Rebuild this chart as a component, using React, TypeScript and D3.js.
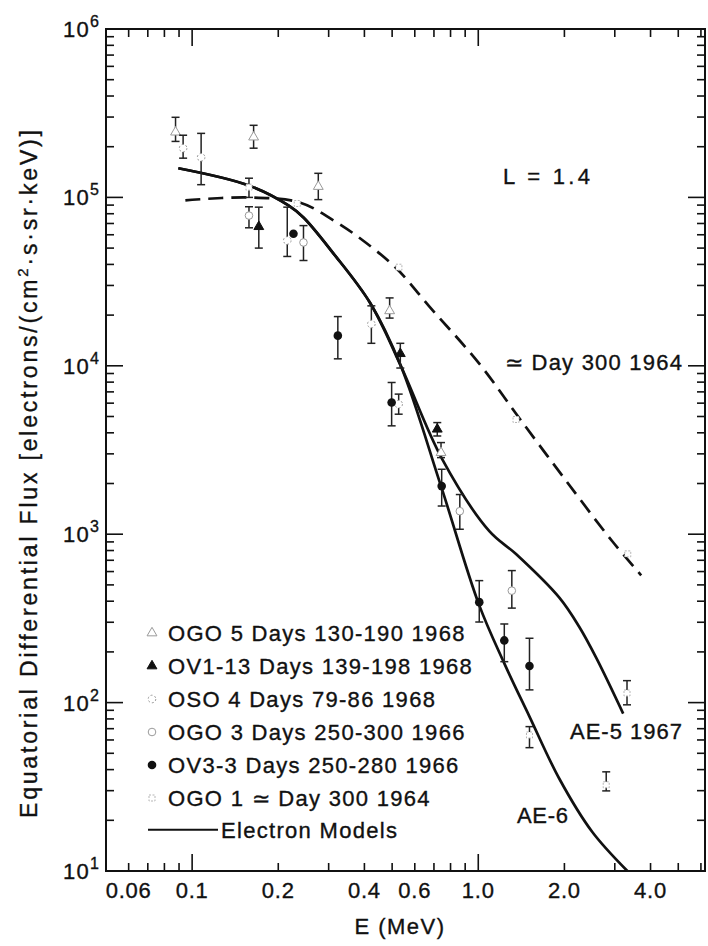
import React, { useEffect, useRef } from 'react';
import * as d3 from 'd3';

const WIDTH = 708;
const HEIGHT = 946;

// model curves (E in MeV, flux)
const sharedE = [0.0895, 0.157, 0.217, 0.245, 0.312, 0.419, 0.536];
const sharedF = [1.49e5, 1.18e5, 8.96e4, 7.6e4, 4.64e4, 2.36e4, 1.0e4];
const ae6E = [0.741, 1.005, 1.233, 1.51, 1.92, 2.5, 3.32];
const ae6F = [1930, 383, 171, 82.6, 35.3, 17.1, 10];
const ae5E = [0.748, 1.093, 1.358, 1.92, 2.25, 2.59, 3.21];
const ae5F = [2790, 1042, 760, 420, 283, 183, 86];
const day300E = [0.0947, 0.157, 0.239, 0.312, 0.387, 0.514, 0.681, 1.008, 1.39, 2.03, 2.94, 3.71];
const day300F = [9.6e4, 1.0e5, 9.3e4, 7.3e4, 5.7e4, 3.83e4, 2.21e4, 1.03e4, 4.9e3, 2.07e3, 908, 570];

// measurements: [E, flux, low, high]
const ogo5 = [
  [0.0875, 2.44e5, 2.15e5, 2.99e5],
  [0.164, 2.28e5, 1.96e5, 2.68e5],
  [0.276, 1.16e5, 9.7e4, 1.39e5],
  [0.49, 2.12e4, 1.92e4, 2.53e4],
  [0.741, 3.05e3, 2.85e3, 3.5e3],
];
const ov113 = [
  [0.171, 6.7e4, 5.0e4, 8.75e4],
  [0.534, 1.18e4, 9.7e3, 1.36e4],
  [0.719, 4.2e3, 3.83e3, 4.6e3],
];
const oso4 = [
  [0.093, 1.96e5, 1.71e5, 2.34e5],
  [0.1075, 1.73e5, 1.19e5, 2.4e5],
  [0.215, 5.55e4, 4.46e4, 8.75e4],
  [0.423, 1.77e4, 1.36e4, 2.27e4],
  [0.527, 5920, 5160, 6790],
];
const ogo3 = [
  [0.158, 7.8e4, 6.6e4, 8.8e4],
  [0.245, 5.4e4, 4.22e4, 6.8e4],
  [0.862, 1370, 1070, 1720],
  [1.31, 462, 364, 608],
];
const ov33 = [
  [0.226, 6.08e4, 6.08e4, 6.08e4],
  [0.323, 1.51e4, 1.1e4, 1.96e4],
  [0.498, 6050, 4400, 7960],
  [0.745, 1930, 1470, 2430],
  [1.008, 395, 301, 530],
  [1.233, 234, 175, 293],
  [1.51, 165, 119, 241],
];
const ogo1 = [
  [0.158, 1.15e5, 1.0e5, 1.3e5],
  [0.233, 9.2e4, 9.2e4, 9.2e4],
  [0.528, 3.85e4, 3.85e4, 3.85e4],
  [1.355, 4800, 4800, 4800],
  [3.33, 764, 764, 764],
  [1.51, 64.2, 54, 72],
  [2.8, 32.5, 29.9, 38.8],
  [3.31, 114, 97, 135],
];

const legendLabels = [
  'OGO 5 Days 130-190 1968',
  'OV1-13 Days 139-198 1968',
  'OSO 4 Days 79-86 1968',
  'OGO 3 Days 250-300 1966',
  'OV3-3 Days 250-280 1966',
  'OGO 1 \u2243 Day 300 1964',
];
const xTickValues = [0.06, 0.1, 0.2, 0.4, 0.6, 1.0, 2.0, 4.0];
const xTickLabels = ['0.06', '0.1', '0.2', '0.4', '0.6', '1.0', '2.0', '4.0'];
const yTickValues = [10, 100, 1e3, 1e4, 1e5, 1e6];
const yTickExp = ['1', '2', '3', '4', '5', '6'];

const FONT = "'Liberation Sans', Arial, Helvetica, sans-serif";

const FluxChart = () => {
  const ref = useRef<HTMLDivElement>(null);

  useEffect(() => {
    const margin = { top: 29, right: 3, bottom: 75, left: 106 };
    d3.select(ref.current).selectAll('*').remove();

    const svg = d3
      .select(ref.current)
      .append('svg')
      .attr('width', WIDTH)
      .attr('height', HEIGHT)
      .style('display', 'block')
      .style('background', '#fff')
      .style('font-family', FONT);

    const x = d3.scaleLog().domain([0.05, 6.2]).range([margin.left, WIDTH - margin.right]);
    const y = d3.scaleLog().domain([10, 1e6]).range([HEIGHT - margin.bottom, margin.top]);
    const [x0, x1] = x.range();
    const [y0, y1] = y.range();

    // frame
    svg
      .append('rect')
      .attr('x', x0)
      .attr('y', y1)
      .attr('width', x1 - x0)
      .attr('height', y0 - y1)
      .attr('fill', 'none')
      .attr('stroke', '#111')
      .attr('stroke-width', 2);

    // ticks pointing inward
    const isDecade = (v: number) => Math.abs(Math.log10(v) - Math.round(Math.log10(v))) < 1e-6;
    const ticks = svg.append('g').attr('stroke', '#111').attr('stroke-width', 1.6);
    x.ticks().forEach((v) => {
      const len = isDecade(v) ? 17 : 8;
      ticks.append('line').attr('x1', x(v)).attr('x2', x(v)).attr('y1', y0).attr('y2', y0 - len);
      ticks.append('line').attr('x1', x(v)).attr('x2', x(v)).attr('y1', y1).attr('y2', y1 + len);
    });
    y.ticks().forEach((v) => {
      const len = isDecade(v) ? 17 : 8;
      ticks.append('line').attr('x1', x0).attr('x2', x0 + len).attr('y1', y(v)).attr('y2', y(v));
      ticks.append('line').attr('x1', x1).attr('x2', x1 - len).attr('y1', y(v)).attr('y2', y(v));
    });

    // text looks heavy in the scan
    const ink = (sel: any) => sel.attr('fill', '#111').attr('stroke', '#111').attr('stroke-width', 0.35);

    // tick labels
    svg
      .append('g')
      .call(ink)
      .selectAll('text')
      .data(xTickValues)
      .join('text')
      .attr('x', (d) => x(d))
      .attr('y', 898)
      .attr('text-anchor', 'middle')
      .style('font-size', '22px')
      .style('letter-spacing', '0.8px')
      .text((d, i) => xTickLabels[i]);

    const yl = svg
      .append('g')
      .call(ink)
      .selectAll('text')
      .data(yTickValues)
      .join('text')
      .attr('x', 100)
      .attr('y', (d) => y(d) + 8)
      .attr('text-anchor', 'end')
      .style('font-size', '22px')
      .style('letter-spacing', '1.2px');
    yl.append('tspan').text('10');
    yl.append('tspan')
      .attr('dy', -10)
      .style('font-size', '16px')
      .text((d, i) => yTickExp[i]);

    // axis titles
    svg
      .append('text')
      .call(ink)
      .attr('x', 400)
      .attr('y', 934)
      .attr('text-anchor', 'middle')
      .style('font-size', '22px')
      .style('letter-spacing', '1.5px')
      .text('E (MeV)');

    const yt = svg
      .append('text')
      .call(ink)
      .attr('transform', 'translate(37,474) rotate(-90)')
      .attr('text-anchor', 'middle')
      .attr('textLength', 688)
      .attr('lengthAdjust', 'spacing')
      .style('font-size', '23px');
    yt.append('tspan').text('Equatorial Differential Flux [electrons/(cm');
    yt.append('tspan').attr('dy', -9).style('font-size', '15px').text('2');
    yt.append('tspan').attr('dy', 9).text('\u00b7s\u00b7sr\u00b7keV)]');

    // model curves
    const line = d3
      .line<[number, number]>()
      .x((d) => x(d[0]))
      .y((d) => y(d[1]))
      .curve(d3.curveCatmullRom.alpha(0.5));

    const zip = (es: number[], fs: number[]) => es.map((e, i) => [e, fs[i]] as [number, number]);
    const shared = zip(sharedE, sharedF);
    const curves = [
      { pts: shared.concat(zip(ae6E, ae6F)), dash: null },
      { pts: shared.concat(zip(ae5E, ae5F)), dash: null },
      { pts: zip(day300E, day300F), dash: '15 8' },
    ];
    svg
      .append('defs')
      .append('clipPath')
      .attr('id', 'plot-clip')
      .append('rect')
      .attr('x', x0)
      .attr('y', y1)
      .attr('width', x1 - x0)
      .attr('height', y0 - y1);
    curves.forEach((c) => {
      svg
        .append('path')
        .datum(c.pts)
        .attr('clip-path', 'url(#plot-clip)')
        .attr('fill', 'none')
        .attr('stroke', '#111')
        .attr('stroke-width', 2.7)
        .attr('stroke-dasharray', c.dash)
        .attr('d', line);
    });

    // error bars + markers
    const faint = '#9a9a9a';
    const triangle = d3.symbol().type(d3.symbolTriangle).size(42);
    const series = [
      { data: ogo5, kind: 'tri-open' },
      { data: ov113, kind: 'tri' },
      { data: oso4, kind: 'circ-dash' },
      { data: ogo3, kind: 'circ-open' },
      { data: ov33, kind: 'circ' },
      { data: ogo1, kind: 'sq-open' },
    ];

    const drawMarker = (g: any, kind: string, cx: number, cy: number) => {
      if (kind === 'tri' || kind === 'tri-open') {
        g.append('path')
          .attr('d', triangle())
          .attr('transform', `translate(${cx},${cy})`)
          .attr('fill', kind === 'tri' ? '#111' : '#fff')
          .attr('stroke', kind === 'tri' ? '#111' : faint)
          .attr('stroke-width', 1);
      } else if (kind === 'circ') {
        g.append('circle').attr('cx', cx).attr('cy', cy).attr('r', 4.3).attr('fill', '#111');
      } else if (kind === 'circ-open' || kind === 'circ-dash') {
        g.append('circle')
          .attr('cx', cx)
          .attr('cy', cy)
          .attr('r', 3.8)
          .attr('fill', '#fff')
          .attr('stroke', faint)
          .attr('stroke-width', 1)
          .attr('stroke-dasharray', kind === 'circ-dash' ? '2 2' : null);
      } else {
        g.append('rect')
          .attr('x', cx - 3)
          .attr('y', cy - 3)
          .attr('width', 6)
          .attr('height', 6)
          .attr('fill', '#fff')
          .attr('stroke', '#b5b5b5')
          .attr('stroke-width', 1)
          .attr('stroke-dasharray', '2 1.5');
      }
    };

    const points = svg.append('g');
    series.forEach((s) => {
      s.data.forEach((d) => {
        const [e, f, lo, hi] = d;
        const cx = x(e);
        if (hi > lo) {
          points
            .append('line')
            .attr('x1', cx)
            .attr('x2', cx)
            .attr('y1', y(hi))
            .attr('y2', y(lo))
            .attr('stroke', '#222')
            .attr('stroke-width', 1.5);
          [hi, lo].forEach((v) => {
            points
              .append('line')
              .attr('x1', cx - 4)
              .attr('x2', cx + 4)
              .attr('y1', y(v))
              .attr('y2', y(v))
              .attr('stroke', '#222')
              .attr('stroke-width', 1.5);
          });
        }
        drawMarker(points, s.kind, cx, y(f));
      });
    });

    // annotations
    const notes = [
      { t: 'L = 1.4', x: 503, y: 184, w: 87 },
      { t: '\u2243 Day 300 1964', x: 505, y: 370, w: 177 },
      { t: 'AE-5 1967', x: 570, y: 739, w: 112 },
      { t: 'AE-6', x: 517, y: 823, w: 51 },
    ];
    svg
      .append('g')
      .call(ink)
      .selectAll('text')
      .data(notes)
      .join('text')
      .attr('x', (d) => d.x)
      .attr('y', (d) => d.y)
      .attr('textLength', (d) => d.w)
      .attr('lengthAdjust', 'spacing')
      .style('font-size', '22px')
      .text((d) => d.t);

    // legend
    const legend = svg.append('g');
    const kinds = series.map((s) => s.kind);
    legendLabels.forEach((label, i) => {
      const cy = 633 + i * 33;
      drawMarker(legend, kinds[i], 152, cy);
      legend
        .append('text')
        .call(ink)
        .attr('x', 168)
        .attr('y', cy + 8)
        .style('font-size', '22px')
        .style('letter-spacing', '1.3px')
        .text(label);
    });
    const ly = 633 + 6 * 32.8;
    legend
      .append('line')
      .attr('x1', 148)
      .attr('x2', 218)
      .attr('y1', ly)
      .attr('y2', ly)
      .attr('stroke', '#111')
      .attr('stroke-width', 2);
    legend
      .append('text')
      .call(ink)
      .attr('x', 221)
      .attr('y', ly + 8)
      .style('font-size', '22px')
      .style('letter-spacing', '1.3px')
      .text('Electron Models');
  }, []);

  return <div ref={ref}></div>;
};

export default function App() {
  return (
    <>
      <style>{'body{margin:0;}'}</style>
      <FluxChart />
    </>
  );
}
